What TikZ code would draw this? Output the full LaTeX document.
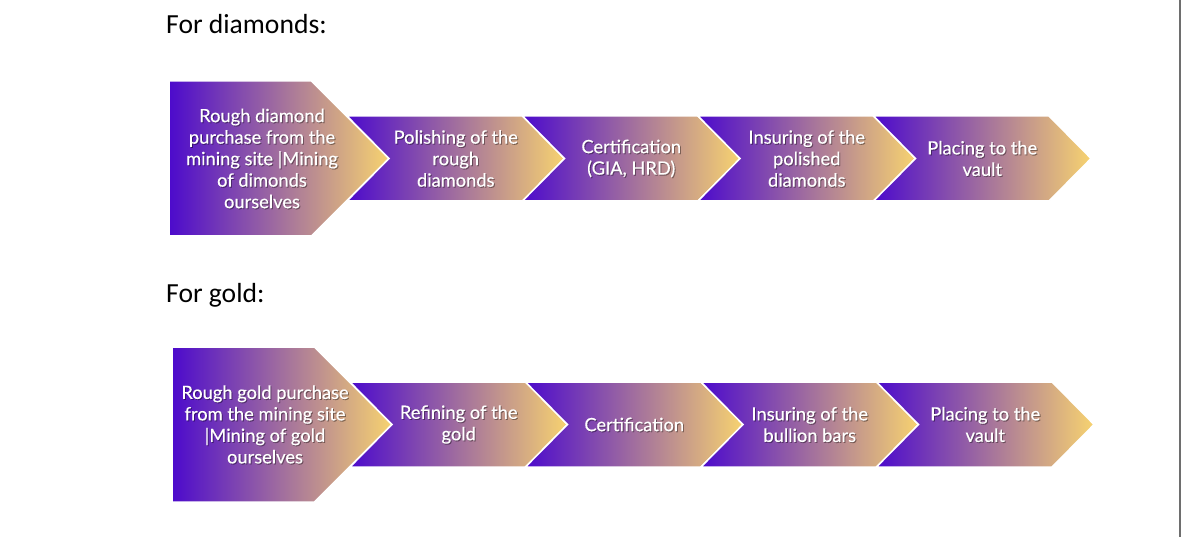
\documentclass[tikz,border=0pt]{standalone}
\usepackage{fontspec}
\setmainfont{Carlito}
\newfontfamily\boxfont[FakeBold=0.4]{Lato}
\definecolor{purp}{RGB}{76,10,204}
\definecolor{goldc}{RGB}{247,211,112}
\definecolor{rule}{RGB}{110,110,110}
\tikzset{
  arrowshape/.style={left color=purp, right color=goldc, draw=white, line width=1.5pt, line join=miter},
  boxtext/.style={text=white, align=center, font=\boxfont\fontsize{18.3}{21.5}\selectfont, inner sep=0pt},
  boxshadow/.style={boxtext, text=black, text opacity=0.35},
  heading/.style={anchor=base west, font=\fontsize{27.6}{32}\selectfont, inner sep=0pt, text=black}
}
\newcommand{\chev}[3]{% x0, y0, name
  \path[arrowshape] (#1,#2) -- ++(175.5,0) -- ++(42,42.5) -- ++(-42,42.5) -- ++(-175.5,0) -- ++(42,-42.5) -- cycle;
  \coordinate (#3) at ({#1+108.75},{#2+42.5});
}
\newcommand{\pent}[4]{% left, top, tipx, name
  \path[arrowshape] (#1,#2) -- ({#3-77.5},#2) -- (#3,{#2+77.5}) -- ({#3-77.5},{#2+155}) -- (#1,{#2+155}) -- cycle;
  \coordinate (#4) at ({#1+93},{#2+77.5});
}
\newcommand{\boxlabel}[3]{% name, at, text
  \node[boxshadow] (#1s) at ([shift={(1,1)}]#2) {#3};
  \node[boxtext] (#1) at (#2) {#3};
}
\begin{document}
\begin{tikzpicture}[x=1pt,y=-1pt]
\useasboundingbox (0,0) rectangle (1182,537);
\fill[white] (0,0) rectangle (1182,537);
\draw[rule, line width=2pt] (1180,0) -- (1180,537);

% diamonds
\node[heading] (h1) at (166,34) {For diamonds:};
\pent{169}{81}{389}{d1}
\chev{347}{116}{d2}
\chev{522.5}{116}{d3}
\chev{698}{116}{d4}
\chev{873.5}{116}{d5}
\boxlabel{t1}{d1}{Rough diamond\\purchase from the\\mining site |Mining\\of dimonds\\ourselves}
\boxlabel{t2}{d2}{Polishing of the\\rough\\diamonds}
\boxlabel{t3}{d3}{Certification\\(GIA, HRD)}
\boxlabel{t4}{d4}{Insuring of the\\polished\\diamonds}
\boxlabel{t5}{d5}{Placing to the\\vault}

% gold
\node[heading] (h2) at (166,302) {For gold:};
\pent{172}{347}{392}{g1}
\chev{350}{382}{g2}
\chev{525.5}{382}{g3}
\chev{701}{382}{g4}
\chev{876.5}{382}{g5}
\boxlabel{u1}{g1}{Rough gold purchase\\from the mining site\\|Mining of gold\\ourselves}
\boxlabel{u2}{g2}{Refining of the\\gold}
\boxlabel{u3}{g3}{Certification}
\boxlabel{u4}{g4}{Insuring of the\\bullion bars}
\boxlabel{u5}{g5}{Placing to the\\vault}
\end{tikzpicture}
\end{document}
